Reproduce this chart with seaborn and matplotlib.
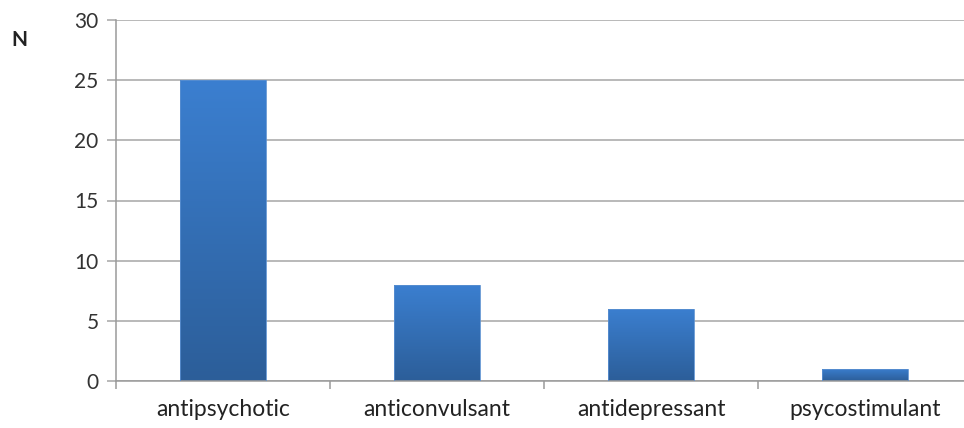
import numpy as np
import pandas as pd
import matplotlib.pyplot as plt
import seaborn as sns
from matplotlib.colors import LinearSegmentedColormap

# Data
drug_classes = ['antipsychotic', 'anticonvulsant', 'antidepressant', 'psycostimulant']
counts = [25, 8, 6, 1]

df = pd.DataFrame({'Class': drug_classes, 'N': counts})

sns.set_style('white')
plt.rcParams['font.family'] = ['Lato', 'DejaVu Sans']

fig = plt.figure(figsize=(9.64, 4.28), dpi=100)
# plot area runs past the right edge, like the cropped original
ax = fig.add_axes([116 / 964, 47 / 428, 856 / 964, 361 / 428])

sns.barplot(data=df, x='Class', y='N', color='#3670b8', width=0.4,
            saturation=1, ax=ax, zorder=3)

# vertical gradient fill on each bar
grad_cmap = LinearSegmentedColormap.from_list('bar', ['#2c5e99', '#3b7fd0'])
grad = np.linspace(0, 1, 256).reshape(-1, 1)
for bar in ax.patches:
    x0, y0 = bar.get_x(), bar.get_y()
    w, h = bar.get_width(), bar.get_height()
    bar.set_facecolor('none')
    bar.set_edgecolor('#5a8fd0')
    bar.set_linewidth(0.6)
    img = ax.imshow(grad, cmap=grad_cmap, origin='lower', aspect='auto',
                    extent=[x0, x0 + w, y0, y0 + h], zorder=2.5)
    img.set_clip_path(bar)

ax.set_xlim(-0.5, 3.5)
ax.set_ylim(0, 30)
ax.set_yticks(range(0, 31, 5))
ax.set_xticks([-0.5, 0.5, 1.5, 2.5, 3.5], minor=True)

ax.grid(axis='y', color='#a6a6a6', linewidth=1.1, zorder=0)
ax.grid(axis='x', visible=False)
for side in ['top', 'right']:
    ax.spines[side].set_visible(False)
for side in ['left', 'bottom']:
    ax.spines[side].set_color('#9a9a9a')
    ax.spines[side].set_linewidth(1.1)

ax.tick_params(axis='y', which='major', length=6.5, width=1.1, color='#a6a6a6',
               labelsize=15, labelcolor='#333333', pad=6, left=True)
ax.tick_params(axis='x', which='major', length=0, labelsize=16.5,
               labelcolor='#222222', pad=13)
ax.tick_params(axis='x', which='minor', length=6, width=1.1, color='#9a9a9a',
               bottom=True)

ax.set_xlabel('')
ax.set_ylabel('')
fig.text(19 / 964, 1 - 40 / 428, 'N', fontsize=15, fontweight='bold',
         color='#222222', va='center', ha='center')

fig.savefig('out.png', dpi=100, facecolor='white')
plt.close(fig)
